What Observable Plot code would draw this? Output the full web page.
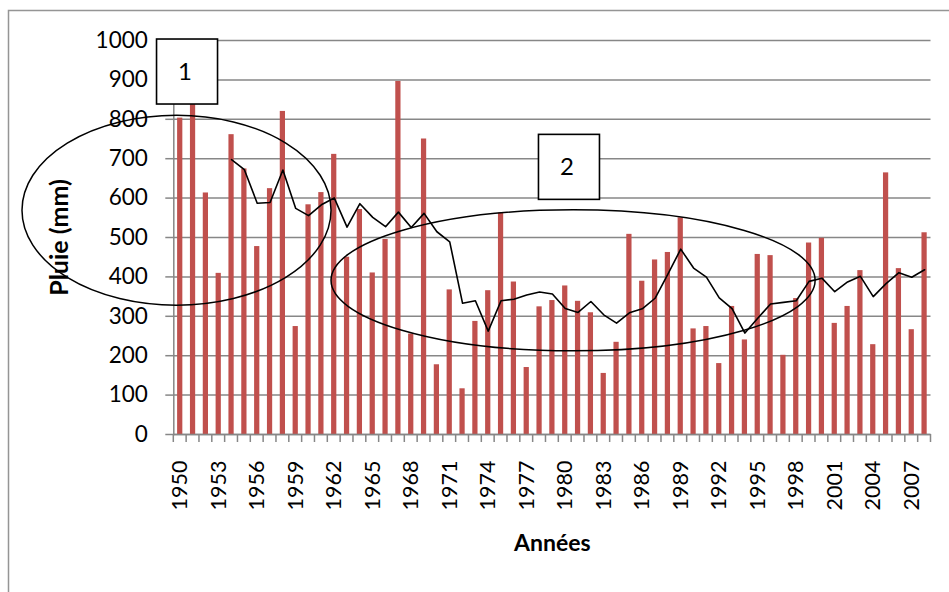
<!DOCTYPE html>
<html>
<head>
<meta charset="utf-8">
<script src="https://cdn.jsdelivr.net/npm/d3@7"></script>
<script src="https://cdn.jsdelivr.net/npm/@observablehq/plot@0.6"></script>
<style>
  html, body { margin: 0; padding: 0; background: #ffffff; }
  #chart svg { display: block; font-family: Lato, "Open Sans", sans-serif; }
</style>
</head>
<body>
<div id="chart"></div>
<script>
// ---- Data ----
const years = [1950,1951,1952,1953,1954,1955,1956,1957,1958,1959,
               1960,1961,1962,1963,1964,1965,1966,1967,1968,1969,
               1970,1971,1972,1973,1974,1975,1976,1977,1978,1979,
               1980,1981,1982,1983,1984,1985,1986,1987,1988,1989,
               1990,1991,1992,1993,1994,1995,1996,1997,1998,1999,
               2000,2001,2002,2003,2004,2005,2006,2007,2008];
const rain = [803,903,613,409,761,674,477,624,820,274,
              583,614,711,450,571,410,495,896,255,750,
              177,367,116,287,365,562,387,170,324,340,
              377,338,309,155,234,508,389,443,462,550,
              268,274,180,325,240,457,454,201,345,486,
              498,282,325,416,228,664,421,266,512];
const xTicks = [1950,1953,1956,1959,1962,1965,1968,1971,1974,1977,
                1980,1983,1986,1989,1992,1995,1998,2001,2004,2007];
const yTicks = [0,100,200,300,400,500,600,700,800,900,1000];
const yLabel = "Pluie (mm)";
const xLabel = "Années";
const periodLabels = ["1", "2"];
// annotation ellipses & boxes, in data units (year, mm)
const ellipseCenters = [[1949.75, 568], [1980.65, 390]];
const ellipseRadii = [[12.04, 241], [18.86, 179]];
const boxCenters = [[1950.57, 920], [1980.33, 678]];

const data = years.map((year, i) => ({year, rain: rain[i]}));

const GRAY = "#878787";
const BAR = "#C0504D";

function border(index, scales, values, dims) {
  const g = d3.create("svg:g");
  g.append("path")
    .attr("d", `M8.5,${dims.height + 5}V10.5H${dims.width + 5}`)
    .attr("fill", "none").attr("stroke", "#959595").attr("stroke-width", 1.5);
  return g.node();
}

function categoryTicks(index, scales) {
  const {x, y} = scales;
  const step = x(years[1]) - x(years[0]);
  const g = d3.create("svg:g");
  const yb = y(0);
  const bounds = years.concat([years[years.length - 1] + 1]);
  g.selectAll("line").data(bounds).join("line")
    .attr("x1", (d, i) => x(years[0]) + i * step)
    .attr("x2", (d, i) => x(years[0]) + i * step)
    .attr("y1", yb).attr("y2", yb + 8)
    .attr("stroke", GRAY).attr("stroke-width", 1.5);
  return g.node();
}

function annotations(index, scales) {
  const {x, y} = scales;
  const step = x(years[1]) - x(years[0]);
  const xv = v => x(years[0]) + (v - years[0] + 0.5) * step;
  const g = d3.create("svg:g");
  ellipseCenters.forEach(([cy, cm], i) => {
    const [ry, rm] = ellipseRadii[i];
    g.append("ellipse")
      .attr("cx", xv(cy)).attr("cy", y(cm))
      .attr("rx", ry * step).attr("ry", y(0) - y(rm))
      .attr("fill", "none").attr("stroke", "#000").attr("stroke-width", 1.5);
  });
  boxCenters.forEach(([by, bm], i) => {
    const cx = xv(by), cy = y(bm);
    g.append("rect")
      .attr("x", cx - 30.5).attr("y", cy - 32.5)
      .attr("width", 61).attr("height", 65)
      .attr("fill", "#fff").attr("stroke", "#000").attr("stroke-width", 1.6);
    g.append("text")
      .attr("x", cx - 2).attr("y", cy)
      .attr("dy", "0.35em")
      .attr("text-anchor", "middle")
      .attr("font-size", 24)
      .attr("fill", "#000")
      .text(periodLabels[i]);
  });
  return g.node();
}

const chart = Plot.plot({
  width: 949,
  height: 592,
  marginLeft: 173.3,
  marginRight: 18.5,
  marginTop: 40,
  marginBottom: 158,
  style: {fontFamily: "Lato, 'Open Sans', sans-serif", background: "#fff", overflow: "visible"},
  x: {type: "band", domain: years, padding: 0},
  y: {domain: [0, 1000]},
  marks: [
    border,
    Plot.gridY(yTicks, {stroke: GRAY, strokeOpacity: 1, strokeWidth: 1.5}),
    Plot.barY(data, {x: "year", y: "rain", fill: BAR, insetLeft: 3.8, insetRight: 3.8}),
    Plot.ruleY([0], {stroke: GRAY, strokeWidth: 1.5}),
    Plot.frame({anchor: "left", stroke: GRAY, strokeWidth: 1.5}),
    Plot.axisY(yTicks, {tickSize: 8, tickPadding: 18, tickFormat: d => String(d), stroke: GRAY, strokeWidth: 1.5, fontSize: 22.5, fill: "#000", label: null}),
    Plot.axisX(xTicks, {tickSize: 0, tickPadding: 26, tickRotate: -90, tickFormat: d => String(d), fontSize: 21.5, fill: "#000", label: null}),
    categoryTicks,
    Plot.lineY(data, Plot.windowY({k: 5, anchor: "end", strict: true}, {x: "year", y: "rain", stroke: "#000", strokeWidth: 1.6})),
    annotations,
    Plot.text([yLabel], {text: d => d, frameAnchor: "left", dx: -114, rotate: -90, textAnchor: "middle", fontWeight: "bold", fontSize: 25, fill: "#000"}),
    Plot.text([xLabel], {text: d => d, frameAnchor: "bottom", dy: 116, textAnchor: "middle", fontWeight: "bold", fontSize: 23, fill: "#000"})
  ]
});
document.getElementById("chart").appendChild(chart);
</script>
</body>
</html>
